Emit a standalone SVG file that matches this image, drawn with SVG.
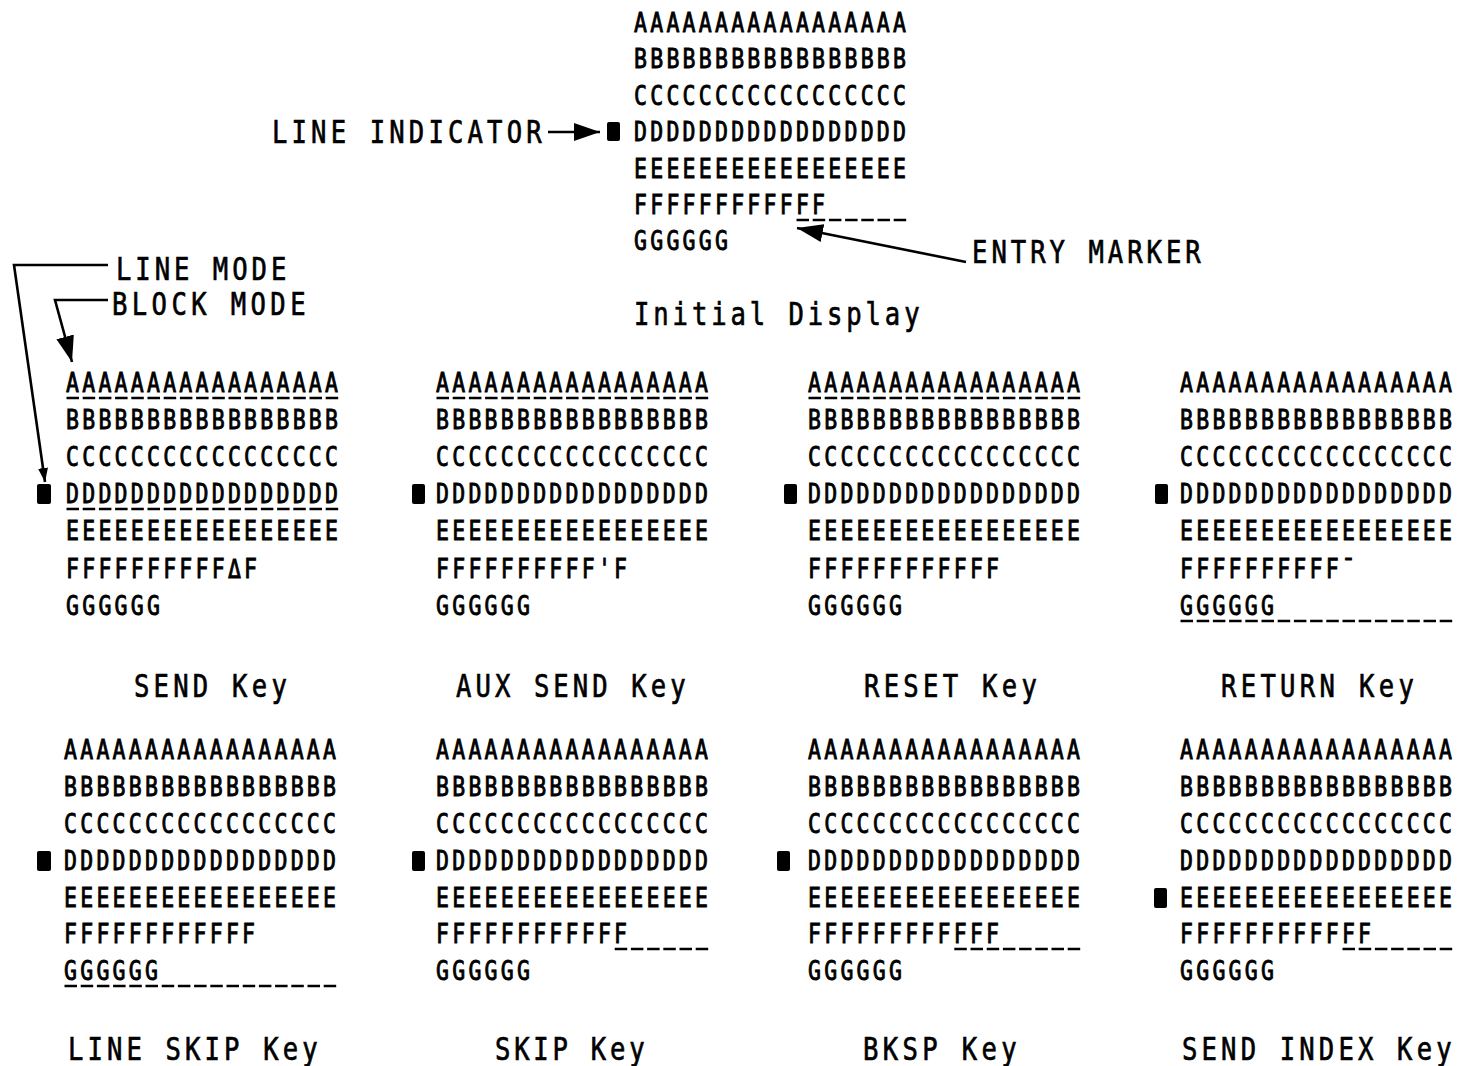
<svg xmlns="http://www.w3.org/2000/svg" width="1458" height="1066" viewBox="0 0 1458 1066">
<style>
.t{font-family:"DejaVu Sans Mono",monospace;font-size:26.9px;letter-spacing:4.05px;fill:#000;stroke:#000;stroke-width:0.9px}
.l{font-family:"DejaVu Sans Mono",monospace;font-size:32px;fill:#000;stroke:#000;stroke-width:0.7px}
.u{stroke:#000;stroke-width:2.4;stroke-dasharray:12.5 3.7;fill:none}
.sq{fill:#000}
.c{stroke:#000;stroke-width:2.6;fill:none}
</style>
<defs>
<marker id="ah" viewBox="0 0 26 18" refX="26" refY="9" markerWidth="26" markerHeight="18" markerUnits="userSpaceOnUse" orient="auto"><path d="M0 0L26 9L0 18z" fill="#000"/></marker>
<marker id="ah2" viewBox="0 0 14 10" refX="14" refY="5" markerWidth="14" markerHeight="10" markerUnits="userSpaceOnUse" orient="auto"><path d="M0 0L14 5L0 10z" fill="#000"/></marker>
</defs>
<rect width="1458" height="1066" fill="#fff"/>

<g id="initial-display" transform="translate(634 0)">
<g transform="scale(0.8 1)">
<text class="t" y="32">AAAAAAAAAAAAAAAAA</text>
<text class="t" y="68">BBBBBBBBBBBBBBBBB</text>
<text class="t" y="105">CCCCCCCCCCCCCCCCC</text>
<text class="t" y="141">DDDDDDDDDDDDDDDDD</text>
<text class="t" y="178">EEEEEEEEEEEEEEEEE</text>
<text class="t" y="214">FFFFFFFFFFFF</text>
<text class="t" y="250">GGGGGG</text>
</g>
<rect class="sq" x="-27" y="122" width="13" height="19" rx="2"/>
<path class="u" d="M162.5 220H272.2"/>
<text class="l" transform="translate(0 325) scale(0.8 1)" textLength="357">Initial Display</text>
</g>

<g id="line-indicator-label"><text class="l" transform="translate(272 143) scale(0.8 1)" textLength="337">LINE INDICATOR</text></g>
<g id="entry-marker-label"><text class="l" transform="translate(972 263) scale(0.8 1)" textLength="286">ENTRY MARKER</text></g>
<g id="line-mode-label"><text class="l" transform="translate(116 280) scale(0.8 1)" textLength="213">LINE MODE</text></g>
<g id="block-mode-label"><text class="l" transform="translate(112 315) scale(0.8 1)" textLength="242">BLOCK MODE</text></g>

<g id="send-key" transform="translate(66 0)">
<g transform="scale(0.8 1)">
<text class="t" y="392">AAAAAAAAAAAAAAAAA</text>
<text class="t" y="429">BBBBBBBBBBBBBBBBB</text>
<text class="t" y="466">CCCCCCCCCCCCCCCCC</text>
<text class="t" y="503">DDDDDDDDDDDDDDDDD</text>
<text class="t" y="540">EEEEEEEEEEEEEEEEE</text>
<text class="t" y="578">FFFFFFFFFFΔF</text>
<text class="t" y="615">GGGGGG</text>
</g>
<rect class="sq" x="-29" y="484" width="14" height="20" rx="2"/>
<path class="u" d="M0.5 398H272.2"/>
<path class="u" d="M0.5 509H272.2"/>
<text class="l" transform="translate(68 697) scale(0.8 1)" textLength="191">SEND Key</text>
</g>

<g id="aux-send-key" transform="translate(436 0)">
<g transform="scale(0.8 1)">
<text class="t" y="392">AAAAAAAAAAAAAAAAA</text>
<text class="t" y="429">BBBBBBBBBBBBBBBBB</text>
<text class="t" y="466">CCCCCCCCCCCCCCCCC</text>
<text class="t" y="503">DDDDDDDDDDDDDDDDD</text>
<text class="t" y="540">EEEEEEEEEEEEEEEEE</text>
<text class="t" y="578">FFFFFFFFFF'F</text>
<text class="t" y="615">GGGGGG</text>
</g>
<rect class="sq" x="-24" y="484" width="13" height="20" rx="2"/>
<path class="u" d="M0.5 398H272.2"/>
<text class="l" transform="translate(20 697) scale(0.8 1)" textLength="287">AUX SEND Key</text>
</g>

<g id="reset-key" transform="translate(808 0)">
<g transform="scale(0.8 1)">
<text class="t" y="392">AAAAAAAAAAAAAAAAA</text>
<text class="t" y="429">BBBBBBBBBBBBBBBBB</text>
<text class="t" y="466">CCCCCCCCCCCCCCCCC</text>
<text class="t" y="503">DDDDDDDDDDDDDDDDD</text>
<text class="t" y="540">EEEEEEEEEEEEEEEEE</text>
<text class="t" y="578">FFFFFFFFFFFF</text>
<text class="t" y="615">GGGGGG</text>
</g>
<rect class="sq" x="-24" y="484" width="13" height="20" rx="2"/>
<path class="u" d="M0.5 398H272.2"/>
<text class="l" transform="translate(56 697) scale(0.8 1)" textLength="216">RESET Key</text>
</g>

<g id="return-key" transform="translate(1180 0)">
<g transform="scale(0.8 1)">
<text class="t" y="392">AAAAAAAAAAAAAAAAA</text>
<text class="t" y="429">BBBBBBBBBBBBBBBBB</text>
<text class="t" y="466">CCCCCCCCCCCCCCCCC</text>
<text class="t" y="503">DDDDDDDDDDDDDDDDD</text>
<text class="t" y="540">EEEEEEEEEEEEEEEEE</text>
<text class="t" y="578">FFFFFFFFFF¯</text>
<text class="t" y="615">GGGGGG</text>
</g>
<rect class="sq" x="-25" y="484" width="13" height="20" rx="2"/>
<path class="u" d="M0.5 621H272.2"/>
<text class="l" transform="translate(41 697) scale(0.8 1)" textLength="241">RETURN Key</text>
</g>

<g id="line-skip-key" transform="translate(64 0)">
<g transform="scale(0.8 1)">
<text class="t" y="759">AAAAAAAAAAAAAAAAA</text>
<text class="t" y="796">BBBBBBBBBBBBBBBBB</text>
<text class="t" y="833">CCCCCCCCCCCCCCCCC</text>
<text class="t" y="870">DDDDDDDDDDDDDDDDD</text>
<text class="t" y="907">EEEEEEEEEEEEEEEEE</text>
<text class="t" y="943">FFFFFFFFFFFF</text>
<text class="t" y="980">GGGGGG</text>
</g>
<rect class="sq" x="-27" y="851" width="14" height="20" rx="2"/>
<path class="u" d="M0.5 986H272.2"/>
<text class="l" transform="translate(4 1060) scale(0.8 1)" textLength="312">LINE SKIP Key</text>
</g>

<g id="skip-key" transform="translate(436 0)">
<g transform="scale(0.8 1)">
<text class="t" y="759">AAAAAAAAAAAAAAAAA</text>
<text class="t" y="796">BBBBBBBBBBBBBBBBB</text>
<text class="t" y="833">CCCCCCCCCCCCCCCCC</text>
<text class="t" y="870">DDDDDDDDDDDDDDDDD</text>
<text class="t" y="907">EEEEEEEEEEEEEEEEE</text>
<text class="t" y="943">FFFFFFFFFFFF</text>
<text class="t" y="980">GGGGGG</text>
</g>
<rect class="sq" x="-24" y="851" width="13" height="20" rx="2"/>
<path class="u" d="M178.7 949H272.2"/>
<text class="l" transform="translate(59 1060) scale(0.8 1)" textLength="187">SKIP Key</text>
</g>

<g id="bksp-key" transform="translate(808 0)">
<g transform="scale(0.8 1)">
<text class="t" y="759">AAAAAAAAAAAAAAAAA</text>
<text class="t" y="796">BBBBBBBBBBBBBBBBB</text>
<text class="t" y="833">CCCCCCCCCCCCCCCCC</text>
<text class="t" y="870">DDDDDDDDDDDDDDDDD</text>
<text class="t" y="907">EEEEEEEEEEEEEEEEE</text>
<text class="t" y="943">FFFFFFFFFFFF</text>
<text class="t" y="980">GGGGGG</text>
</g>
<rect class="sq" x="-31" y="851" width="13" height="20" rx="2"/>
<path class="u" d="M146.3 949H272.2"/>
<text class="l" transform="translate(55 1060) scale(0.8 1)" textLength="192">BKSP Key</text>
</g>

<g id="send-index-key" transform="translate(1180 0)">
<g transform="scale(0.8 1)">
<text class="t" y="759">AAAAAAAAAAAAAAAAA</text>
<text class="t" y="796">BBBBBBBBBBBBBBBBB</text>
<text class="t" y="833">CCCCCCCCCCCCCCCCC</text>
<text class="t" y="870">DDDDDDDDDDDDDDDDD</text>
<text class="t" y="907">EEEEEEEEEEEEEEEEE</text>
<text class="t" y="943">FFFFFFFFFFFF</text>
<text class="t" y="980">GGGGGG</text>
</g>
<rect class="sq" x="-26" y="888" width="13" height="20" rx="2"/>
<path class="u" d="M162.5 949H272.2"/>
<text class="l" transform="translate(2 1060) scale(0.8 1)" textLength="337">SEND INDEX Key</text>
</g>

<g id="connectors">
<path class="c" d="M548 132H600" marker-end="url(#ah)"/>
<path class="c" d="M966 262L797 228" marker-end="url(#ah)"/>
<path class="c" d="M108 265H14L45 482" marker-end="url(#ah2)"/>
<path class="c" d="M108 300H55L72 362" marker-end="url(#ah)"/>
</g>
</svg>
